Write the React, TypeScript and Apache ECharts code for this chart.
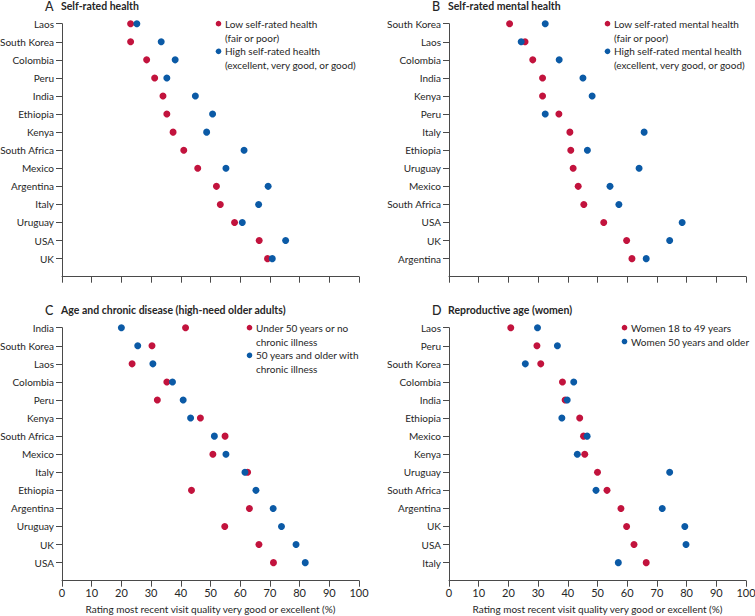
import React, { useEffect, useRef } from "react";
import * as echarts from "echarts";

const countriesA = ["Laos", "South Korea", "Colombia", "Peru", "India", "Ethiopia", "Kenya", "South Africa", "Mexico", "Argentina", "Italy", "Uruguay", "USA", "UK"];
const lowA = [23.1, 23.1, 28.5, 31.2, 34.0, 35.3, 37.4, 41.0, 45.7, 52.0, 53.3, 58.1, 66.4, 69.2];
const highA = [25.2, 33.4, 38.1, 35.3, 44.9, 50.7, 48.7, 61.3, 55.2, 69.4, 66.2, 60.7, 75.3, 70.8];

const countriesB = ["South Korea", "Laos", "Colombia", "India", "Kenya", "Peru", "Italy", "Ethiopia", "Uruguay", "Mexico", "South Africa", "USA", "UK", "Argentina"];
const lowB = [20.4, 25.6, 28.2, 31.5, 31.5, 37.0, 40.7, 41.0, 41.8, 43.5, 45.4, 52.1, 59.8, 61.6];
const highB = [32.4, 24.3, 37.1, 45.1, 48.2, 32.4, 65.7, 46.6, 64.0, 54.2, 57.2, 78.5, 74.3, 66.4];

const countriesC = ["India", "South Korea", "Laos", "Colombia", "Peru", "Kenya", "South Africa", "Mexico", "Italy", "Ethiopia", "Argentina", "Uruguay", "UK", "USA"];
const lowC = [41.6, 30.3, 23.6, 35.3, 32.1, 46.6, 54.9, 50.8, 62.5, 43.6, 63.1, 54.8, 66.3, 71.2];
const highC = [20.0, 25.5, 30.6, 37.2, 40.8, 43.3, 51.3, 55.2, 61.6, 65.3, 71.1, 73.9, 78.8, 81.9];

const countriesD = ["Laos", "Peru", "South Korea", "Colombia", "India", "Ethiopia", "Mexico", "Kenya", "Uruguay", "South Africa", "Argentina", "UK", "USA", "Italy"];
const youngD = [20.8, 29.6, 30.9, 38.2, 39.1, 44.0, 45.3, 45.7, 50.0, 53.2, 57.9, 59.8, 62.3, 66.4];
const olderD = [29.8, 36.5, 25.7, 42.0, 39.8, 38.0, 46.5, 43.2, 74.3, 49.5, 71.8, 79.4, 79.8, 57.0];

const xTicks = [0, 100, 10]; // min, max, interval
const xAxisName = "Rating most recent visit quality very good or excellent (%)";

const titles = [
  { letter: "A", text: "Self-rated health" },
  { letter: "B", text: "Self-rated mental health" },
  { letter: "C", text: "Age and chronic disease (high-need older adults)" },
  { letter: "D", text: "Reproductive age (women)" },
];
const legendRed = [
  ["Low self-rated health", "(fair or poor)"],
  ["Low self-rated mental health", "(fair or poor)"],
  ["Under 50 years or no", "chronic illness"],
  ["Women 18 to 49 years"],
];
const legendBlue = [
  ["High self-rated health", "(excellent, very good, or good)"],
  ["High self-rated mental health", "(excellent, very good, or good)"],
  ["50 years and older with", "chronic illness"],
  ["Women 50 years and older"],
];

const RED = "#c2133d";
const BLUE = "#0b5aa6";
const TXT = "#262626";
const AX = "#4a4a4a";
const FONT = "Lato, 'Noto Sans', sans-serif";

export default function App() {
  const ref = useRef<HTMLDivElement>(null);
  useEffect(() => {
    if (!ref.current) return;
    const chart = echarts.init(ref.current, null, { renderer: "svg" });

    const panels = [
      { cats: countriesA, red: lowA, blue: highA },
      { cats: countriesB, red: lowB, blue: highB },
      { cats: countriesC, red: lowC, blue: highC },
      { cats: countriesD, red: youngD, blue: olderD },
    ];
    const lefts = [62, 449, 62, 449];
    const tops = [23.7, 23.7, 327.7, 327.7];
    const W = 297;
    const H = 253;
    const legendX = [218.5, 607.5, 249.5, 624.5];
    const lineH = 13.8;

    const grid = panels.map((_, i) => ({
      left: lefts[i],
      top: tops[i],
      width: W,
      height: H,
      containLabel: false,
      outerBoundsMode: "none",
    }));
    const xAxis = panels.map((_, i) => ({
      type: "value",
      gridIndex: i,
      min: xTicks[0],
      max: xTicks[1],
      interval: xTicks[2],
      splitLine: { show: false },
      axisLine: { show: true, lineStyle: { color: AX, width: 1 } },
      axisTick: { show: true, length: 6, lineStyle: { color: AX } },
      axisLabel: { show: i >= 2, color: TXT, fontFamily: FONT, fontSize: 11, margin: 6 },
      name: i >= 2 ? xAxisName : "",
      nameLocation: "middle",
      nameGap: 23,
      nameTextStyle: { color: TXT, fontFamily: FONT, fontSize: 10 },
    }));
    const yAxis = panels.map((p, i) => ({
      type: "category",
      gridIndex: i,
      inverse: true,
      boundaryGap: false,
      data: [...p.cats, ""],
      axisLine: { show: true, lineStyle: { color: AX, width: 1 } },
      axisTick: { show: true, length: 6, interval: (idx: number) => idx < p.cats.length, lineStyle: { color: AX } },
      axisLabel: { color: TXT, fontFamily: FONT, fontSize: 10, margin: 8, interval: 0 },
      splitLine: { show: false },
    }));
    const series: any[] = [];
    panels.forEach((p, i) => {
      series.push({
        type: "scatter",
        xAxisIndex: i,
        yAxisIndex: i,
        symbolSize: 7,
        itemStyle: { color: RED, opacity: 1 },
        data: p.red.map((v, k) => [v, p.cats[k]]),
        z: 2,
      });
      series.push({
        type: "scatter",
        xAxisIndex: i,
        yAxisIndex: i,
        symbolSize: 7,
        itemStyle: { color: BLUE, opacity: 1 },
        data: p.blue.map((v, k) => [v, p.cats[k]]),
        z: 3,
      });
    });

    const graphic: any[] = [];
    titles.forEach((t, i) => {
      const ty = tops[i] - 17.5;
      graphic.push({
        type: "text",
        x: lefts[i] - 17,
        y: ty,
        style: { text: t.letter, font: `500 12.5px ${FONT}`, fill: TXT, verticalAlign: "middle" },
      });
      graphic.push({
        type: "text",
        x: lefts[i] - 1,
        y: ty,
        style: { text: t.text, font: `bold 10.5px ${FONT}`, fill: TXT, verticalAlign: "middle" },
      });
      const lx = legendX[i];
      const redLines = legendRed[i];
      const blueLines = legendBlue[i];
      const y0 = tops[i];
      graphic.push({ type: "circle", shape: { cx: lx, cy: y0, r: 2.8 }, style: { fill: RED } });
      redLines.forEach((s, k) => {
        graphic.push({
          type: "text",
          x: lx + 6.5,
          y: y0 + k * lineH,
          style: { text: s, font: `10px ${FONT}`, fill: TXT, verticalAlign: "middle" },
        });
      });
      const by = y0 + redLines.length * lineH;
      graphic.push({ type: "circle", shape: { cx: lx, cy: by, r: 2.8 }, style: { fill: BLUE } });
      blueLines.forEach((s, k) => {
        graphic.push({
          type: "text",
          x: lx + 6.5,
          y: by + k * lineH,
          style: { text: s, font: `10px ${FONT}`, fill: TXT, verticalAlign: "middle" },
        });
      });
    });

    chart.setOption({
      animation: false,
      backgroundColor: "#ffffff",
      grid,
      xAxis,
      yAxis,
      series,
      graphic,
    });
    return () => chart.dispose();
  }, []);
  return <div ref={ref} style={{ position: "fixed", left: 0, top: 0, width: 755, height: 616 }} />;
}
